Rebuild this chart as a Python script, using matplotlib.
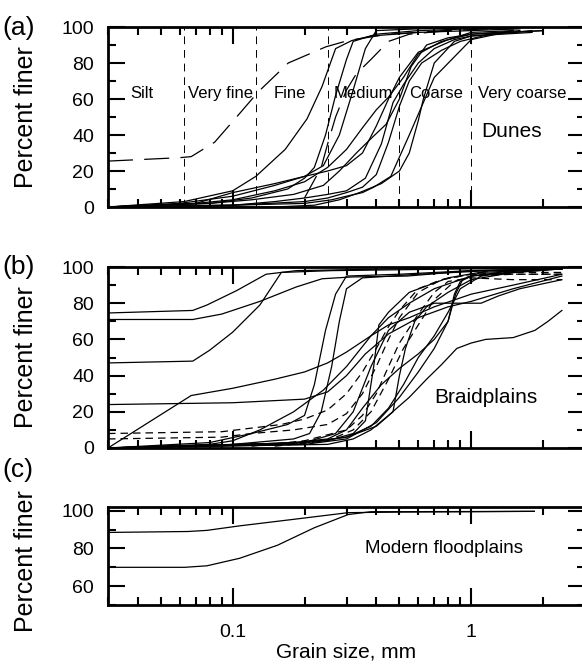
"""
Cumulative grain-size curves for dunes, braidplains and modern floodplains.
Three stacked panels, log grain size axis.
"""

import matplotlib
matplotlib.use('Agg')
import matplotlib.pyplot as plt
from matplotlib.ticker import FixedLocator, FuncFormatter, LogLocator, MultipleLocator, NullFormatter

plt.rcParams['font.family'] = ['Liberation Sans', 'DejaVu Sans']

# --- (a) Dunes: grain size (mm) and percent finer for each sample ---
dunes_sizes = [
    [0.03, 0.0625, 0.1, 0.125, 0.166, 0.205, 0.237, 0.27, 0.316, 0.38, 0.6, 1.0, 1.6],
    [0.03, 0.08, 0.12, 0.17, 0.2, 0.22, 0.245, 0.27, 0.3, 0.32, 0.4, 0.6, 1.0, 1.5],
    [0.03, 0.07, 0.1, 0.15, 0.2, 0.25, 0.3, 0.35, 0.4, 0.45, 0.5, 0.6, 0.8, 1.0, 1.5],
    [0.03, 0.07, 0.1, 0.15, 0.2, 0.25, 0.3, 0.35, 0.4, 0.45, 0.52, 0.6, 0.75, 1.0, 1.6],
    [0.03, 0.08, 0.12, 0.18, 0.24, 0.28, 0.33, 0.38, 0.44, 0.5, 0.56, 0.65, 0.8, 1.0, 2.0],
    [0.03, 0.1, 0.15, 0.2, 0.25, 0.3, 0.36, 0.42, 0.47, 0.52, 0.6, 0.7, 0.85, 1.0, 1.8],
    [0.03, 0.1, 0.2, 0.25, 0.3, 0.35, 0.4, 0.45, 0.5, 0.55, 0.62, 0.75, 0.9, 1.2, 1.8],
    [0.03, 0.15, 0.22, 0.28, 0.34, 0.42, 0.5, 0.55, 0.6, 0.63, 0.7, 0.85, 1.0, 1.5, 2.0],
    [0.03, 0.1, 0.2, 0.26, 0.3, 0.35, 0.39, 0.46, 0.55, 0.7, 1.0, 1.5],
    [0.03, 0.06, 0.1, 0.15, 0.2, 0.24, 0.28, 0.32, 0.36, 0.4, 0.6, 1.0, 1.6],
]
dunes_pcts = [
    [0, 3, 9, 17, 32, 49, 67, 88, 92.5, 95, 97, 98, 99],
    [0, 2, 5, 10, 16, 22, 40, 62, 82, 92, 96, 98, 99, 99],
    [0, 2, 8, 13, 17, 20, 23, 30, 45, 60, 72, 86, 93, 97, 98],
    [0, 2, 4, 9, 14, 22, 32, 44, 54, 61, 72, 85, 92, 96, 98],
    [0, 2, 4, 7, 12, 20, 30, 38, 46, 60, 78, 90, 94, 96, 98],
    [0, 1, 3, 5, 7, 9, 16, 35, 58, 68, 80, 88, 93, 95, 97],
    [0, 1, 3, 5, 8, 11, 18, 36, 56, 70, 80, 87, 92, 96, 98],
    [0, 0, 1, 4, 8, 13, 20, 30, 48, 60, 80, 92, 95, 97, 98],
    [0, 1, 2, 4, 6, 8, 11, 17, 40, 72, 93, 98],
    [0, 2, 6, 12, 17, 23, 40, 65, 88, 98, 99, 99.5, 99.5],
]
dunes_dash_sizes = [
    [0.03, 0.06, 0.067, 0.084, 0.107, 0.128, 0.171, 0.246, 0.305, 0.45, 0.78, 1.2],
    [0.2, 0.235, 0.25, 0.27, 0.3, 0.33, 0.38, 0.45, 0.55, 0.8],
]
dunes_dash_pcts = [
    [25.5, 27.4, 28, 36, 52, 64, 80, 89, 92.5, 96, 98, 99],
    [5, 22, 35, 50, 65, 74, 82, 92, 96, 98],
]
class_bounds = [0.0625, 0.125, 0.25, 0.5, 1.0]
class_names = ['Silt', 'Very fine', 'Fine', 'Medium', 'Coarse', 'Very coarse']
class_label_x = [0.0414, 0.065, 0.148, 0.264, 0.55, 1.07]

# --- (b) Braidplains ---
braid_sizes = [
    [0.03, 0.068, 0.078, 0.104, 0.138, 0.16, 0.26, 1.0, 2.4],
    [0.03, 0.068, 0.09, 0.13, 0.185, 0.237, 0.316, 0.54, 1.0, 2.4],
    [0.03, 0.068, 0.08, 0.1, 0.13, 0.16, 0.185, 0.5, 2.4],
    [0.03, 0.1, 0.2, 0.25, 0.3, 0.36, 0.45, 0.6, 0.8, 1.0, 1.5, 2.4],
    [0.03, 0.067, 0.1, 0.15, 0.2, 0.25, 0.3, 0.38, 0.45, 0.55, 0.7, 1.0, 1.5, 2.4],
    [0.03, 0.08, 0.12, 0.17, 0.2, 0.22, 0.245, 0.27, 0.3, 0.5, 1.0, 2.4],
    [0.03, 0.1, 0.18, 0.21, 0.235, 0.26, 0.28, 0.3, 0.35, 0.6, 1.2, 2.4],
    [0.03, 0.08, 0.1, 0.13, 0.18, 0.24, 0.3, 0.38, 0.45, 0.55, 0.7, 1.0, 2.4],
    [0.03, 0.15, 0.25, 0.32, 0.36, 0.39, 0.41, 0.45, 0.55, 0.8, 1.2, 2.4],
    [0.03, 0.2, 0.3, 0.4, 0.47, 0.5, 0.53, 0.58, 0.65, 0.8, 1.0, 1.5, 2.4],
    [0.03, 0.2, 0.3, 0.38, 0.45, 0.52, 0.6, 0.7, 0.8, 0.9, 1.1, 1.6, 2.4],
    [0.03, 0.2, 0.3, 0.4, 0.5, 0.6, 0.7, 0.8, 0.85, 0.9, 1.0, 1.5, 2.4],
    [0.03, 0.25, 0.32, 0.38, 0.45, 0.55, 0.65, 0.75, 0.87, 1.0, 1.15, 1.5, 1.85, 2.1, 2.4],
    [0.03, 0.2, 0.27, 0.32, 0.38, 0.45, 0.55, 0.7, 1.1, 1.3, 1.6, 2.4],
    [0.03, 0.15, 0.25, 0.3, 0.35, 0.42, 0.5, 0.6, 0.7, 0.8, 0.86, 0.92, 1.1, 2.4],
]
braid_pcts = [
    [74.6, 76, 79, 87, 96, 97, 98, 99, 99.5],
    [71, 71, 74, 81, 89, 93.5, 94.5, 95, 98, 99],
    [47, 48, 54, 64, 79, 97, 98, 99, 99.5],
    [24, 25, 27, 31, 40, 52, 63, 72, 78, 81, 88, 95],
    [0, 29, 33, 38, 42, 47, 53, 62, 68, 72, 78, 85, 90, 96],
    [0, 3, 8, 13, 18, 35, 65, 85, 95, 96, 98, 99],
    [0, 2, 5, 8, 20, 45, 70, 88, 94, 96, 98, 99],
    [0, 2, 4, 10, 20, 32, 45, 62, 72, 80, 88, 95, 99],
    [0, 2, 4, 8, 15, 45, 68, 75, 86, 94, 98, 99],
    [0, 3, 6, 12, 20, 40, 55, 70, 78, 86, 93, 97, 99],
    [0, 3, 6, 12, 22, 35, 50, 62, 75, 88, 95, 98, 99],
    [0, 2, 5, 14, 28, 42, 55, 70, 85, 92, 95, 98, 99],
    [0, 2, 5, 10, 18, 28, 38, 46, 55, 58, 60, 61, 65, 70, 76],
    [0, 3, 8, 20, 45, 65, 75, 80, 80, 84, 88, 93],
    [0, 2, 5, 10, 22, 35, 44, 52, 60, 70, 85, 93, 97, 99],
]
braid_dash_sizes = [
    [0.03, 0.09, 0.12, 0.16, 0.2, 0.25, 0.3, 0.35, 0.4, 0.45, 0.5, 0.6, 0.75, 1.0, 1.5, 2.4],
    [0.03, 0.09, 0.12, 0.18, 0.25, 0.3, 0.35, 0.4, 0.45, 0.5, 0.6, 0.75, 1.0, 1.5, 2.4],
    [0.12, 0.2, 0.3, 0.35, 0.4, 0.45, 0.5, 0.6, 0.7, 0.8, 1.0, 1.5, 2.4],
    [0.15, 0.25, 0.32, 0.38, 0.45, 0.52, 0.6, 0.7, 0.85, 1.0, 1.5, 2.4],
]
braid_dash_pcts = [
    [8, 9, 11, 13, 16, 21, 30, 42, 55, 67, 76, 88, 93, 96, 97, 97],
    [5, 6, 8, 10, 13, 19, 30, 45, 60, 72, 86, 93, 96, 96, 96],
    [1, 4, 10, 18, 30, 45, 58, 74, 86, 92, 94, 93, 93],
    [1, 4, 10, 20, 38, 55, 68, 82, 92, 95, 96, 96],
]

# --- (c) Modern floodplains ---
flood_sizes = [
    [0.03, 0.065, 0.078, 0.107, 0.184, 0.305, 0.5, 1.0, 1.84],
    [0.03, 0.063, 0.078, 0.107, 0.154, 0.22, 0.305, 0.38, 1.0, 1.84],
]
flood_pcts = [
    [88.5, 89, 89.6, 92, 95.6, 99, 99.3, 99.5, 99.7],
    [70, 70, 70.8, 74.8, 81.7, 91, 98, 99.5, 99.6, 99.7],
]

W, H = 582, 668
fig = plt.figure(figsize=(W / 100, H / 100), dpi=100)


def make_axes(top_px, bottom_px):
    left, right = 108, 585
    return fig.add_axes([left / W, 1 - bottom_px / H, (right - left) / W, (bottom_px - top_px) / H])


def style(ax, ylim, label_y, show_x):
    ax.set_xscale('log')
    ax.set_xlim(0.03, 3)
    ax.set_ylim(*ylim)
    ax.xaxis.set_major_locator(FixedLocator([0.1, 1]))
    ax.xaxis.set_minor_locator(LogLocator(base=10, subs=range(2, 10)))
    ax.xaxis.set_major_formatter(FuncFormatter(lambda v, p: '%g' % v))
    ax.xaxis.set_minor_formatter(NullFormatter())
    ax.yaxis.set_major_locator(MultipleLocator(20))
    ax.yaxis.set_minor_locator(MultipleLocator(10))
    ax.tick_params(which='both', direction='in', top=True, right=True, width=1.5, labelsize=14)
    ax.tick_params(which='major', length=12)
    ax.tick_params(which='minor', length=6)
    ax.tick_params(axis='y', pad=10)
    ax.tick_params(axis='x', pad=14, labelbottom=show_x)
    for s in ax.spines.values():
        s.set_linewidth(2)
    ax.set_ylabel('Percent finer', fontsize=18)
    ax.yaxis.set_label_coords(-0.147, label_y)


LW = 0.9

# (a)
ax1 = make_axes(27, 207)
for xs, ys in zip(dunes_sizes, dunes_pcts):
    ax1.plot(xs, ys, color='black', lw=LW)
for xs, ys in zip(dunes_dash_sizes, dunes_dash_pcts):
    ax1.plot(xs, ys, color='black', lw=LW, linestyle=(0, (20, 9)))
for b in class_bounds:
    ax1.plot([b, b], [0, 100], color='black', lw=0.7, linestyle=(0, (8, 6)))
for name, xpos in zip(class_names, class_label_x):
    ax1.text(xpos, 63, name, fontsize=12, ha='left' if name != 'Silt' else 'center', va='center')
ax1.text(1.1, 42, 'Dunes', fontsize=15, ha='left', va='center')
style(ax1, (0, 100), 0.5, False)

# (b)
ax2 = make_axes(267, 448)
for xs, ys in zip(braid_sizes, braid_pcts):
    ax2.plot(xs, ys, color='black', lw=LW)
for xs, ys in zip(braid_dash_sizes, braid_dash_pcts):
    ax2.plot(xs, ys, color='black', lw=LW, linestyle=(0, (6, 4)))
ax2.text(0.7, 28, 'Braidplains', fontsize=15, ha='left', va='center')
style(ax2, (0, 100), 0.5, False)

# (c)
ax3 = make_axes(507, 605)
for xs, ys in zip(flood_sizes, flood_pcts):
    ax3.plot(xs, ys, color='black', lw=LW)
ax3.text(0.36, 80, 'Modern floodplains', fontsize=13.5, ha='left', va='center')
style(ax3, (50, 102), 0.45, True)
ax3.set_xlabel('Grain size, mm', fontsize=15, labelpad=1)

for lab, ypx in zip(['(a)', '(b)', '(c)'], [28, 267, 470]):
    fig.text(2 / W, 1 - ypx / H, lab, fontsize=19, ha='left', va='center')

fig.savefig('out.png', dpi=100)
